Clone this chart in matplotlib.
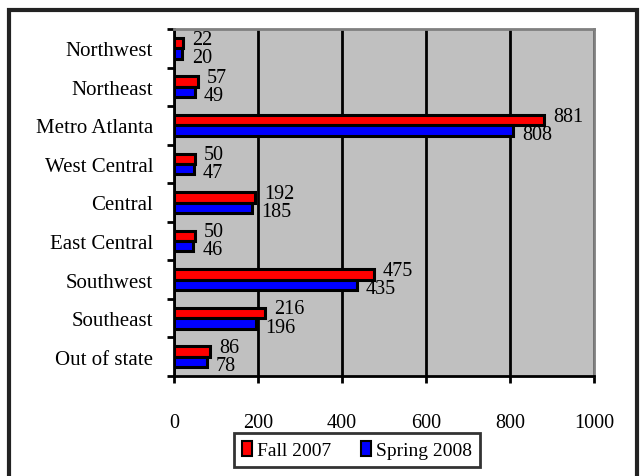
import matplotlib.pyplot as plt
import numpy as np
from matplotlib.patches import Rectangle

plt.rcParams['font.family'] = ['Liberation Serif', 'DejaVu Serif']

regions = ["Northwest", "Northeast", "Metro Atlanta", "West Central", "Central",
           "East Central", "Southwest", "Southeast", "Out of state"]
fall_2007 = [22, 57, 881, 50, 192, 50, 475, 216, 86]
spring_2008 = [20, 49, 808, 47, 185, 46, 435, 196, 78]

fig = plt.figure(figsize=(6.42, 4.77), dpi=100)
ax = fig.add_axes([174/642, 1 - 377/477, 420/642, 347/477])

# outer frame of the picture
fig.patches.append(Rectangle((9/642, -0.05), 628/642, 1.05 - 11/477,
                             transform=fig.transFigure, fill=False,
                             edgecolor='#222222', linewidth=3))

y = np.arange(len(regions))[::-1]
h = 0.27
ax.barh(y + h/2, fall_2007, height=h, color='#ff0000', edgecolor='black',
        linewidth=2.2, label='Fall 2007', zorder=3)
ax.barh(y - h/2, spring_2008, height=h, color='#0000ff', edgecolor='black',
        linewidth=2.2, label='Spring 2008', zorder=3)

for yi, f, s in zip(y, fall_2007, spring_2008):
    ax.text(f + 22, yi + 0.24, str(f), fontsize=14.5, va='center', ha='left', zorder=4)
    ax.text(s + 22, yi - 0.23, str(s), fontsize=14.5, va='center', ha='left', zorder=4)

ax.set_facecolor('#c0c0c0')
ax.set_xlim(0, 1000)
ax.set_ylim(-0.5, len(regions) - 0.5)
ax.set_xticks(np.arange(0, 1001, 200))
ax.grid(axis='x', color='black', linewidth=2, zorder=1)
ax.set_yticks(y)
ax.set_yticklabels(regions, fontsize=15)
ax.set_yticks(np.arange(-0.5, len(regions), 1), minor=True)
ax.tick_params(axis='y', which='major', length=0, pad=15)
ax.tick_params(axis='y', which='minor', length=5, width=2, direction='out')
ax.tick_params(axis='x', length=5, width=2, direction='out', pad=22, labelsize=14.5)

for side in ['left', 'bottom']:
    ax.spines[side].set_color('black')
    ax.spines[side].set_linewidth(2)
for side in ['top', 'right']:
    ax.spines[side].set_color('#808080')
    ax.spines[side].set_linewidth(2)

leg = ax.legend(loc='center', bbox_to_anchor=(357/642, 1 - 451/477),
                bbox_transform=fig.transFigure, ncol=2, fontsize=14,
                frameon=True, fancybox=False, handlelength=0.55, handleheight=0.85,
                handletextpad=0.25, columnspacing=1.5, borderpad=0.4)
leg.get_frame().set_edgecolor('black')
leg.get_frame().set_linewidth(2)
for p in leg.get_patches():
    p.set_linewidth(1.5)

fig.savefig('out.png', dpi=100)
